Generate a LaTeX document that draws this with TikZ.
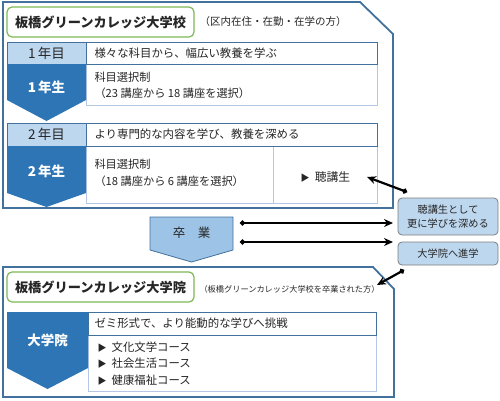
\documentclass[tikz,border=0pt]{standalone}
\usepackage{fontspec}
\setmainfont{Noto Sans CJK JP}
\usetikzlibrary{arrows.meta}
\definecolor{dblue}{HTML}{2E75B6}
\definecolor{lblue}{HTML}{BDD7EE}
\definecolor{mblue}{HTML}{9DC3E6}
\definecolor{frameblue}{HTML}{41719C}
\definecolor{cellb}{HTML}{B4C7E7}
\definecolor{gframe}{HTML}{7DB956}
\definecolor{boxb}{HTML}{7F7F7F}
\definecolor{txt}{HTML}{262626}
\begin{document}
\begin{tikzpicture}[x=1pt,y=-1pt,
  outer/.style={draw=frameblue,line width=1.8pt,fill=white},
  gbox/.style={draw=gframe,line width=1.2pt,rounded corners=5pt,fill=white},
  title/.style={font=\fontsize{13.2}{15}\selectfont\bfseries,text=txt},
  note/.style={font=\fontsize{10.5}{12}\selectfont,text=txt,anchor=west},
  headcell/.style={draw=frameblue,line width=0.8pt,fill=lblue},
  headtxt/.style={draw=frameblue,line width=0.8pt,fill=white},
  bodycell/.style={draw=cellb,line width=0.8pt,fill=white},
  yeartxt/.style={font=\fontsize{13.5}{15}\selectfont,text=txt},
  pent/.style={fill=dblue,draw=none},
  penttxt/.style={font=\fontsize{13.5}{15}\selectfont\bfseries,text=white},
  body/.style={font=\fontsize{11.4}{13}\selectfont,text=txt,anchor=west},
  sbody/.style={font=\fontsize{11.2}{13}\selectfont,text=txt,anchor=west},
  side/.style={draw=boxb,line width=0.8pt,fill=lblue,rounded corners=4pt},
  sidetxt/.style={font=\fontsize{10.2}{13.5}\selectfont,text=txt,align=center},
  conn/.style={line width=2.2pt,{Circle[length=5pt]}-{Stealth[length=9pt,width=8pt]}}
]
\newcommand{\tri}{{\fontsize{9}{10}\selectfont ▶}\ \ }
\useasboundingbox (0,0) rectangle (500,400);
% ---------- upper frame ----------
\draw[outer] (3,2) -- (360,2) -- (393,34) -- (393,208) -- (3,208) -- cycle;
\draw[gbox] (7,7) rectangle (194,37);
\node[title] (school) at (100.5,22) {板橋グリーンカレッジ大学校};
\node[note] (schoolnote) at (196,22) {（区内在住・在勤・在学の方）};
% year 1
\draw[bodycell] (86,64) rectangle (377,105);
\draw[headtxt] (86,42) rectangle (377,64);
\draw[headcell] (7,42) rectangle (86,64);
\node[yeartxt] (y1) at (46.5,53) {1\,年目};
\node[body] (y1h) at (91,53) {様々な科目から、幅広い教養を学ぶ};
\draw[pent] (7,64) -- (86,64) -- (86,100) -- (46.5,121) -- (7,100) -- cycle;
\node[penttxt] (g1) at (46.5,87) {1\,年生};
\node[sbody] (b1a) at (91,77) {科目選択制};
\node[sbody] (b1b) at (91,93) {（23 講座から 18 講座を選択）};
% year 2
\draw[bodycell] (86,146) rectangle (273,203);
\draw[bodycell] (273,146) rectangle (377,203);
\draw[headtxt] (86,123) rectangle (377,146);
\draw[headcell] (7,123) rectangle (86,146);
\node[yeartxt] (y2) at (46.5,134.5) {2\,年目};
\node[body] (y2h) at (91,134.5) {より専門的な内容を学び、教養を深める};
\draw[pent] (7,146) -- (86,146) -- (86,193) -- (46.5,207) -- (7,193) -- cycle;
\node[penttxt] (g2) at (46.5,171) {2\,年生};
\node[sbody] (b2a) at (91,164) {科目選択制};
\node[sbody] (b2b) at (91,181) {（18 講座から 6 講座を選択）};
\node[font=\fontsize{11.8}{13}\selectfont,text=txt,anchor=west] (choko) at (297,177) {\tri 聴講生};
% ---------- graduation ----------
\draw[fill=mblue,draw=frameblue,line width=0.8pt] (150,217) -- (233,217) -- (233,250) -- (191.5,262) -- (150,250) -- cycle;
\node[font=\fontsize{12.5}{14}\selectfont,text=txt] (sotsu) at (191.5,233) {卒　業};
\coordinate (s1) at (240,223);
\coordinate (s2) at (240,242);
% side boxes
\draw[side] (398,198) rectangle (498,235);
\node[sidetxt] (deepen) at (448,216.5) {聴講生として\\更に学びを深める};
\draw[side] (398,242) rectangle (498,265);
\node[sidetxt] (advance) at (448,253.5) {大学院へ進学};
\coordinate (d1) at (393,223);
\coordinate (d2) at (393,242);
\coordinate (deepstart) at (407,192);
\coordinate (chokoend) at (367,177);
\coordinate (advstart) at (404,270);
\coordinate (advend) at (377,285);
% ---------- lower frame ----------
\draw[outer] (3,267) -- (373,267) -- (394,289) -- (394,397) -- (3,397) -- cycle;
\draw[gbox] (7,272) rectangle (194,302);
\node[title] (grad) at (100.5,287) {板橋グリーンカレッジ大学院};
\node[font=\fontsize{8.2}{10}\selectfont,text=txt,anchor=west] (gradnote) at (196,289) {（板橋グリーンカレッジ大学校を卒業された方）};
\draw[bodycell] (88,335) rectangle (376,391);
\draw[headtxt] (88,312) rectangle (376,335);
\draw[pent] (7,312) -- (88,312) -- (88,368) -- (47.5,389) -- (7,368) -- cycle;
\node[penttxt] (g3) at (47.5,340) {大学院};
\node[body] (gh) at (91,323.5) {ゼミ形式で、より能動的な学びへ挑戦};
\node[body] (c1) at (94,347) {\tri 文化文学コース};
\node[body] (c2) at (94,363.5) {\tri 社会生活コース};
\node[body] (c3) at (94,380) {\tri 健康福祉コース};
% ---------- connectors ----------
\draw[conn] (s1) -- (d1);
\draw[conn] (s2) -- (d2);
\draw[conn] (deepstart) -- (chokoend);
\draw[conn] (advstart) -- (advend);
\end{tikzpicture}
\end{document}
